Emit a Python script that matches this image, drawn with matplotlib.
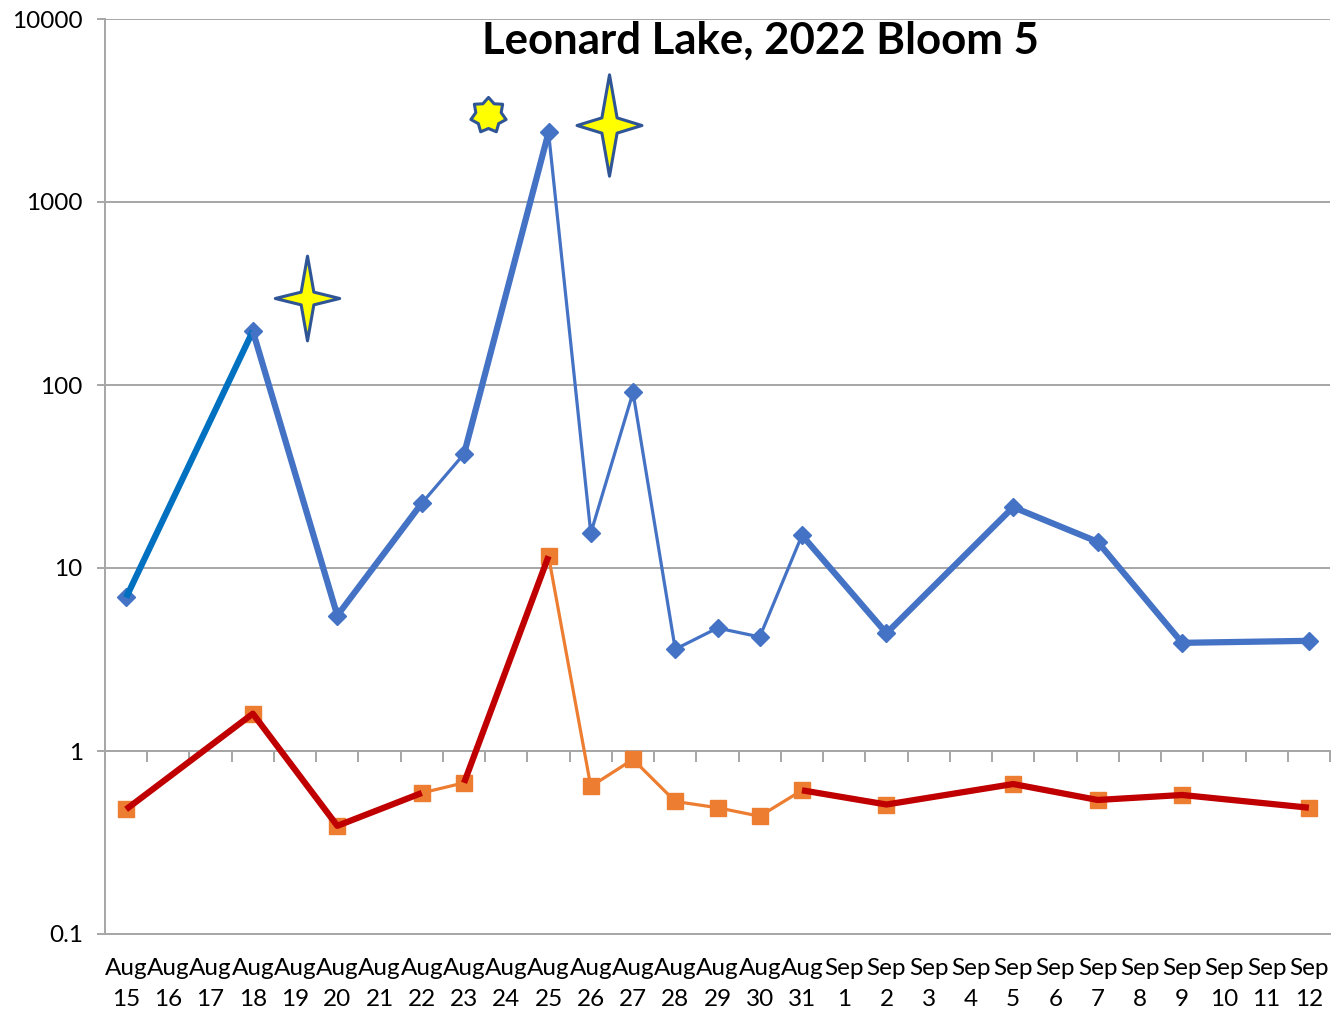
import numpy as np
import matplotlib
matplotlib.use("Agg")
import matplotlib.pyplot as plt
from matplotlib.path import Path

plt.rcParams['font.family'] = ['Lato', 'DejaVu Sans']

# categories along the x axis (one per day)
months = ['Aug'] * 17 + ['Sep'] * 12
days = list(range(15, 32)) + list(range(1, 13))
labels = [f'{m}\n{d}' for m, d in zip(months, days)]

nan = np.nan
# blue series (diamonds)
blue = [6.9, nan, nan, 197, nan, 5.5, nan, 22.6, 42, nan, 2400, 15.5, 91, 3.6,
        4.7, 4.2, 15.1, nan, 4.4, nan, nan, 21.5, nan, 13.9, nan, 3.9, nan, nan, 4.0]
# orange series (squares)
orange = [0.48, nan, nan, 1.6, nan, 0.39, nan, 0.59, 0.67, nan, 11.6, 0.64, 0.90, 0.53,
          0.49, 0.44, 0.61, nan, 0.51, nan, nan, 0.66, nan, 0.54, nan, 0.575, nan, nan, 0.49]

# highlighted stretches (index ranges, inclusive)
blue_first = (0, 3)
blue_thick = [(3, 7), (8, 10), (16, 28)]
red_thick = [(0, 7), (8, 10), (16, 28)]

# star annotations: x position (category units), y value
sparkle_x = [4.28, 11.43]
sparkle_y = [299, 2630]
burst_x = [8.57]
burst_y = [2990]

BLUE = '#4472C4'
BLUE2 = '#0070C0'
ORANGE = '#ED7D31'
RED = '#C00000'
GRID = '#A6A6A6'
STAR_EDGE = '#2F5597'


def sparkle_path(aspect, inner=0.15):
    # four-point star, height 2, width 2*aspect
    v = [(0, 1), (inner, inner), (aspect, 0), (inner, -inner),
         (0, -1), (-inner, -inner), (-aspect, 0), (-inner, inner), (0, 1)]
    return Path(v, closed=True)


def burst_path(n=7, inner=0.72):
    ang = np.pi / 2 + np.arange(2 * n) * np.pi / n
    r = np.where(np.arange(2 * n) % 2 == 0, 1.0, inner)
    v = np.column_stack([r * np.cos(ang), r * np.sin(ang)])
    v = np.vstack([v, v[:1]])
    return Path(v, closed=True)


def series(vals):
    x = np.arange(len(vals))
    y = np.array(vals, dtype=float)
    m = ~np.isnan(y)
    return x[m], y[m]


def stretch(vals, lo, hi):
    x = np.arange(lo, hi + 1)
    y = np.array(vals[lo:hi + 1], dtype=float)
    m = ~np.isnan(y)
    return x[m], y[m]


fig = plt.figure(figsize=(13.31, 10.19), dpi=100)
ax = fig.add_axes([105 / 1331, 85 / 1019, 1225 / 1331, 915 / 1019])
ax.set_yscale('log')
ax.set_ylim(0.1, 10000)
ax.set_xlim(-0.5, len(labels) - 0.5)

ax.yaxis.grid(True, color=GRID, lw=1.4)
ax.set_axisbelow(True)

# base series
bx, by = series(blue)
ax.plot(bx, by, color=BLUE, lw=2.3, marker='D', ms=9, zorder=3)
ox, oy = series(orange)
ax.plot(ox, oy, color=ORANGE, lw=2.3, marker='s', ms=11, zorder=3)

# thick overlays
x, y = stretch(blue, *blue_first)
ax.plot(x, y, color=BLUE2, lw=4.5, solid_capstyle='butt', zorder=4)
for lo, hi in blue_thick:
    x, y = stretch(blue, lo, hi)
    ax.plot(x, y, color=BLUE, lw=4.5, solid_capstyle='butt', zorder=4)
for lo, hi in red_thick:
    x, y = stretch(orange, lo, hi)
    ax.plot(x, y, color=RED, lw=4.5, solid_capstyle='butt', zorder=4)

# star shapes
ax.plot(sparkle_x[0], sparkle_y[0], ls='none', marker=sparkle_path(0.76), ms=61,
        mfc='#FFFF00', mec=STAR_EDGE, mew=2.2, zorder=5)
ax.plot(sparkle_x[1], sparkle_y[1], ls='none', marker=sparkle_path(0.64), ms=73,
        mfc='#FFFF00', mec=STAR_EDGE, mew=2.2, zorder=5)
ax.plot(burst_x, burst_y, ls='none', marker=burst_path(), ms=26,
        mfc='#FFFF00', mec=STAR_EDGE, mew=2.2, zorder=5)

# axes styling
for s in ['top', 'right']:
    ax.spines[s].set_visible(False)
ax.spines['left'].set_color(GRID)
ax.spines['left'].set_linewidth(1.4)
ax.spines['bottom'].set_color(GRID)
ax.spines['bottom'].set_linewidth(1.4)

ax.set_yticks([0.1, 1, 10, 100, 1000, 10000])
ax.set_yticklabels(['0.1', '1', '10', '100', '1000', '10000'])
ax.yaxis.set_minor_locator(matplotlib.ticker.NullLocator())
ax.tick_params(axis='y', length=6, width=1.4, color=GRID, labelsize=17.5, pad=10)

ax.set_xticks(np.arange(len(labels)))
ax.set_xticklabels(labels, linespacing=1.62)
ax.tick_params(axis='x', length=0, labelsize=17.5, pad=17)

# horizontal axis crossing at 1, with category-boundary ticks
sec = ax.secondary_xaxis(0.2)
sec.set_xticks(np.arange(-0.5, len(labels), 1.0))
sec.set_xticklabels([])
sec.tick_params(axis='x', direction='out', length=8, width=1.4, color=GRID)
sec.spines['bottom'].set_color(GRID)
sec.spines['bottom'].set_linewidth(1.4)

fig.text(760 / 1331, 1 - 41 / 1019, 'Leonard Lake, 2022 Bloom 5', ha='center', va='center',
         fontsize=31.5, fontweight='bold')

fig.savefig('out.png', dpi=100)
